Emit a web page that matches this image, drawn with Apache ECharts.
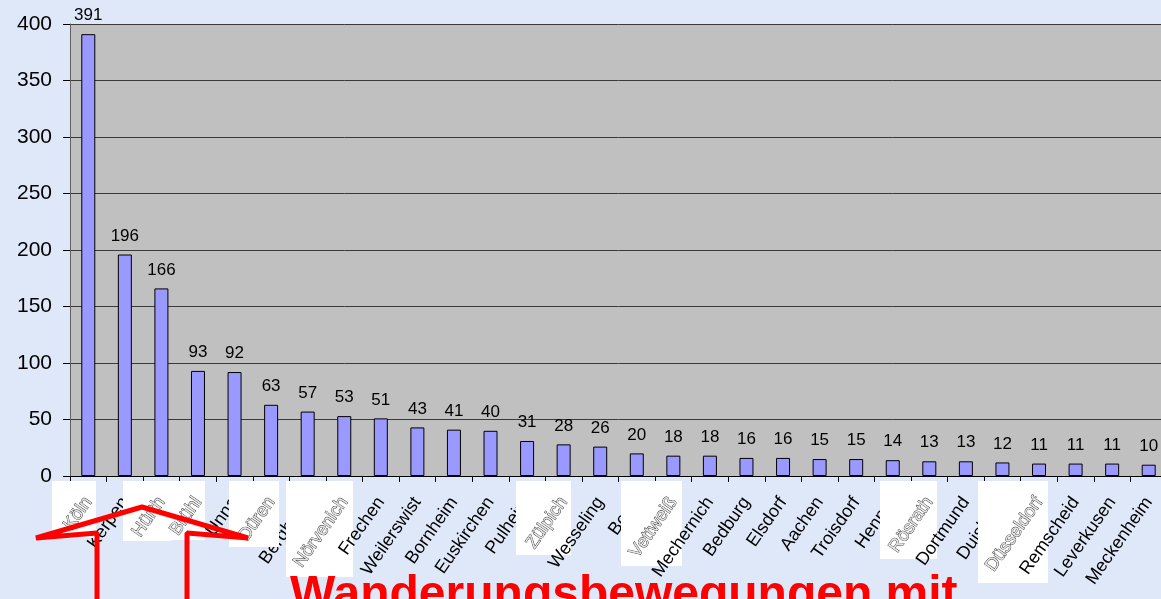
<!DOCTYPE html>
<html>
<head>
<meta charset="utf-8">
<script src="https://cdn.jsdelivr.net/npm/echarts@6/dist/echarts.min.js"></script>
<style>
  html, body { margin: 0; padding: 0; overflow: hidden; background: #dfe8f8; }
  #chart { width: 1167px; height: 599px; }
</style>
</head>
<body>
<div id="chart"></div>
<script>
// Orte (Kategorien) und Anzahl
const orte = ['Köln', 'Kerpen', 'Hürth', 'Brühl', 'Unna', 'Düren', 'Bergheim', 'Nörvenich', 'Frechen',
  'Weilerswist', 'Bornheim', 'Euskirchen', 'Pulheim', 'Zülpich', 'Wesseling', 'Bonn', 'Vettweiß',
  'Mechernich', 'Bedburg', 'Elsdorf', 'Aachen', 'Troisdorf', 'Hennef', 'Rösrath', 'Dortmund',
  'Duisburg', 'Düsseldorf', 'Remscheid', 'Leverkusen', 'Meckenheim']
const anzahl = [391, 196, 166, 93, 92, 63, 57, 53, 51, 43, 41, 40, 31, 28, 26, 20, 18, 18, 16, 16,
  15, 15, 14, 13, 13, 12, 11, 11, 11, 10]
const yTicks = [0, 50, 100, 150, 200, 250, 300, 350, 400]
// Beschriftungen, die im Original weiß hinterlegt sind
const markiert = ['Köln', 'Hürth', 'Brühl', 'Düren', 'Nörvenich', 'Zülpich', 'Vettweiß', 'Rösrath', 'Düsseldorf']
// Beschriftungen, die über den Kästen liegen
const oben = ['Frechen', 'Wesseling', 'Mechernich', 'Dortmund', 'Remscheid']

const FONT = '"Liberation Sans", Arial, sans-serif'
const LABEL_ROTATE = 55
const LABEL_MARGIN = 23

const chart = echarts.init(document.getElementById('chart'))

const option = {
  backgroundColor: '#dfe8f8',
  animation: false,
  grid: { left: 70, right: 0, top: 24, bottom: 123, show: true, backgroundColor: '#c0c0c0', borderWidth: 0 },
  xAxis: {
    type: 'category',
    data: orte,
    axisLine: { lineStyle: { color: '#000', width: 1 } },
    axisTick: { show: true, length: 6, lineStyle: { color: '#000' } },
    axisLabel: {
      interval: 0,
      rotate: LABEL_ROTATE,
      margin: LABEL_MARGIN,
      fontSize: 18,
      color: '#000',
      fontFamily: FONT,
      formatter: function (v) {
        return (markiert.indexOf(v) >= 0 || oben.indexOf(v) >= 0) ? '' : v
      }
    }
  },
  yAxis: {
    type: 'value',
    min: yTicks[0],
    max: yTicks[yTicks.length - 1],
    interval: 50,
    axisLine: { show: true, lineStyle: { color: '#606060' } },
    axisTick: { show: true, length: 7, lineStyle: { color: '#000' } },
    splitLine: { show: true, lineStyle: { color: '#3a3a3a', width: 1 } },
    axisLabel: { fontSize: 21, color: '#000', fontFamily: FONT, margin: 18 }
  },
  series: [
    {
      type: 'bar',
      data: anzahl,
      barWidth: 14,
      itemStyle: { color: '#9999ff', borderColor: '#000', borderWidth: 1 },
      label: {
        show: true,
        position: 'top',
        distance: 10,
        fontSize: 17,
        color: '#000',
        fontFamily: FONT
      }
    }
  ]
}
chart.setOption(option)

// weiße Kästen über den Achsenbeschriftungen (wie im Original eingefügt)
const kaesten = [
  [52, 481, 44, 57], [123, 481, 48, 60], [170, 481, 35, 59], [229, 481, 50, 66],
  [286, 481, 67, 96], [516, 481, 55, 74], [621, 481, 61, 85], [880, 481, 57, 78],
  [978, 481, 70, 102]
]
const graphics = []
kaesten.forEach(function (k) {
  graphics.push({
    type: 'rect', z: 50,
    shape: { x: k[0], y: k[1], width: k[2], height: k[3] },
    style: { fill: '#fff' }
  })
})

function achsenText(name, blass) {
  const p = chart.convertToPixel({ xAxisIndex: 0, yAxisIndex: 0 }, [name, 0])
  return {
    type: 'text', z: 60,
    x: p[0], y: p[1] + LABEL_MARGIN,
    rotation: LABEL_ROTATE * Math.PI / 180,
    style: blass ? {
      text: name, x: 0, y: 0, font: '18px ' + FONT,
      fill: '#e6e6e6', stroke: '#1a1a1a', lineWidth: 0.8,
      align: 'right', verticalAlign: 'middle'
    } : {
      text: name, x: 0, y: 0, font: '18px ' + FONT,
      fill: '#000', align: 'right', verticalAlign: 'middle'
    }
  }
}
// blasse Beschriftung in den Kästen, normale darüber
markiert.forEach(function (name) { graphics.push(achsenText(name, true)) })
oben.forEach(function (name) { graphics.push(achsenText(name, false)) })

// roter Pfeil
graphics.push({
  type: 'polyline', z: 70,
  shape: { points: [[97, 610], [97, 533], [36, 538], [142, 507], [248, 538], [187, 533], [187, 610]] },
  style: { stroke: '#ff0000', lineWidth: 5, fill: null, lineJoin: 'bevel' }
})
// Überschrift unten (abgeschnitten)
graphics.push({
  type: 'text', z: 70,
  x: 290, y: 596,
  style: {
    text: 'Wanderungsbewegungen mit',
    x: 0, y: 0,
    font: 'bold 48px ' + FONT,
    fill: '#ff0000',
    align: 'left', verticalAlign: 'middle'
  }
})
chart.setOption({ graphic: graphics })
</script>
</body>
</html>
